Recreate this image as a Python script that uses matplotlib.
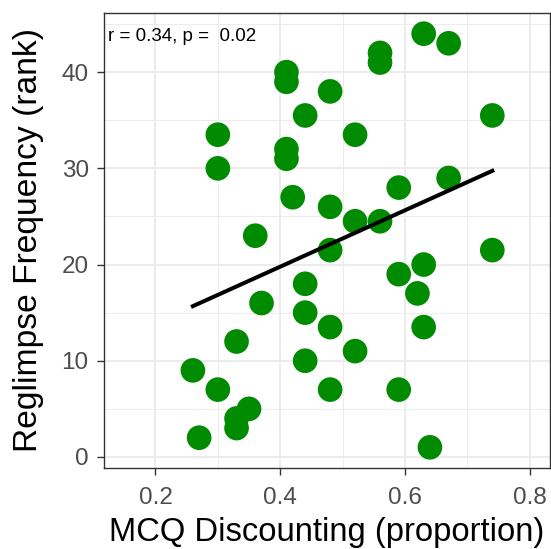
import numpy as np
import matplotlib
matplotlib.use("Agg")
import matplotlib.pyplot as plt
from matplotlib.ticker import MultipleLocator

plt.rcParams['font.family'] = ['Liberation Sans', 'DejaVu Sans']

mcq = [0.64, 0.27, 0.33, 0.33, 0.35, 0.26, 0.30, 0.48, 0.59, 0.33, 0.37, 0.52,
       0.44, 0.48, 0.44, 0.44, 0.63, 0.62, 0.59, 0.63, 0.74, 0.36, 0.48, 0.52,
       0.56, 0.48, 0.42, 0.59, 0.67, 0.30, 0.30, 0.41, 0.41, 0.44, 0.52, 0.74,
       0.48, 0.41, 0.41, 0.56, 0.56, 0.63, 0.67]
rank = [1, 2, 3, 4, 5, 9, 7, 7, 7, 12, 16, 11,
        10, 13.5, 15, 18, 13.5, 17, 19, 20, 21.5, 23, 21.5, 24.5,
        24.5, 26, 27, 28, 29, 30, 33.5, 31, 32, 35.5, 33.5, 35.5,
        38, 39, 40, 41, 42, 44, 43]
x_ticks = [0.2, 0.4, 0.6, 0.8]
y_ticks = [0, 10, 20, 30, 40]
annot = "r = 0.34, p =  0.02"

x = np.array(mcq)
y = np.array(rank)

fig = plt.figure(figsize=(5.51, 5.49), dpi=100)
ax = fig.add_axes([104/551, 1-468/549, (550-104)/551, (468-13)/549])

ax.set_xlim(0.1175, 0.8325)
ymin, ymax = y.min(), y.max()
pad = (ymax - ymin) * 0.05
ax.set_ylim(ymin - pad, ymax + pad)

ax.set_xticks(x_ticks)
ax.set_yticks(y_ticks)
ax.xaxis.set_minor_locator(MultipleLocator(0.1))
ax.yaxis.set_minor_locator(MultipleLocator(5))
ax.grid(which='major', color='#EBEBEB', linewidth=1.3)
ax.grid(which='minor', color='#EBEBEB', linewidth=0.65)
ax.set_axisbelow(True)
ax.tick_params(which='minor', length=0)
ax.tick_params(which='major', length=5, width=1.0, color='#333333',
               labelsize=17.5, labelcolor='#4D4D4D')
ax.tick_params(axis='x', which='major', pad=8.5)
ax.tick_params(axis='y', which='major', pad=6)
for s in ax.spines.values():
    s.set_color('#333333')
    s.set_linewidth(1.0)

ax.scatter(x, y, s=315, color='#008B00', edgecolors='none', zorder=3)

b, a = np.polyfit(x, y, 1)
xs = np.array([x.min(), x.max()])
ax.plot(xs, a + b * xs, color='black', linewidth=2.9, zorder=4)

ax.text(0.009, 0.967, annot, transform=ax.transAxes, fontsize=13.5,
        ha='left', va='top', color='black')

ax.set_xlabel("MCQ Discounting (proportion)", fontsize=23.6, labelpad=6)
ax.set_ylabel("Reglimpse Frequency (rank)", fontsize=24.2, labelpad=13)

fig.savefig("out.png", dpi=100)
